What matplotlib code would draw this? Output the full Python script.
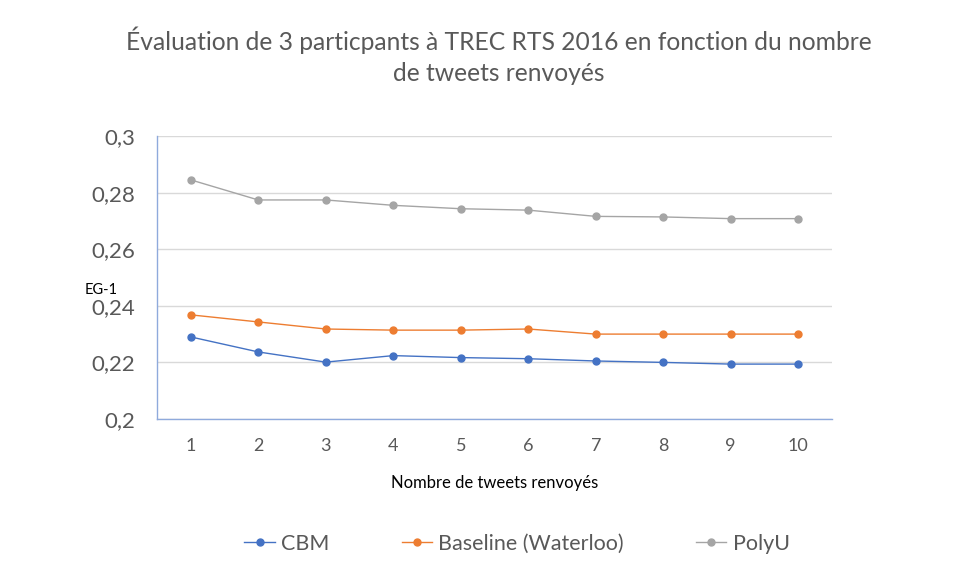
import matplotlib.pyplot as plt
from matplotlib.ticker import FuncFormatter, MultipleLocator

plt.rcParams['font.family'] = ['Lato', 'DejaVu Sans']

# Nombre de tweets renvoyés
n_tweets = [1, 2, 3, 4, 5, 6, 7, 8, 9, 10]

# EG-1 par participant
cbm = [0.2290, 0.2237, 0.2201, 0.2224, 0.2217, 0.2213, 0.2205, 0.2200, 0.2194, 0.2194]
baseline = [0.2368, 0.2343, 0.2318, 0.2314, 0.2314, 0.2318, 0.2300, 0.2300, 0.2300, 0.2300]
polyu = [0.2845, 0.2774, 0.2774, 0.2755, 0.2743, 0.2738, 0.2716, 0.2714, 0.2708, 0.2708]

text_col = '#595959'

fig = plt.figure(figsize=(9.77, 5.65), dpi=100)
ax = fig.add_axes([157 / 977, 1 - 419 / 565, (832 - 157) / 977, (419 - 136) / 565])

ax.plot(n_tweets, cbm, color='#4472C4', lw=1, marker='o', ms=5, label='CBM')
ax.plot(n_tweets, baseline, color='#ED7D31', lw=1, marker='o', ms=5, label='Baseline (Waterloo)')
ax.plot(n_tweets, polyu, color='#A5A5A5', lw=1, marker='o', ms=5, label='PolyU')

ax.set_xlim(0.5, 10.5)
ax.set_ylim(0.2, 0.3)
ax.set_xticks(n_tweets)
ax.yaxis.set_major_locator(MultipleLocator(0.02))
ax.yaxis.set_major_formatter(FuncFormatter(lambda v, p: ('%g' % round(v, 3)).replace('.', ',')))
ax.grid(axis='y', color='#D9D9D9', lw=1)
ax.set_axisbelow(True)

for s in ['top', 'right']:
    ax.spines[s].set_visible(False)
for s in ['left', 'bottom']:
    ax.spines[s].set_color('#8FAADC')
    ax.spines[s].set_linewidth(1)

ax.tick_params(axis='y', length=0, pad=16, labelsize=16, labelcolor=text_col)
ax.tick_params(axis='x', length=0, pad=14, labelsize=13, labelcolor=text_col)

ax.set_xlabel('Nombre de tweets renvoyés', fontsize=12, color='#000000', labelpad=15)
fig.text(101 / 977, 1 - 290 / 565, 'EG-1', fontsize=10.5, ha='center', va='center')

fig.text(499 / 977, 1 - 40 / 565, 'Évaluation de 3 particpants à TREC RTS 2016 en fonction du nombre',
         fontsize=17.7, color=text_col, ha='center', va='center')
fig.text(499 / 977, 1 - 73 / 565, 'de tweets renvoyés',
         fontsize=17.7, color=text_col, ha='center', va='center')

fig.legend(loc='center', bbox_to_anchor=(517 / 977, 1 - 544 / 565), ncol=3, frameon=False,
           fontsize=15.5, labelcolor=text_col, columnspacing=3.35, handlelength=1.4, handletextpad=0.3)

fig.savefig('out.png', dpi=100)
